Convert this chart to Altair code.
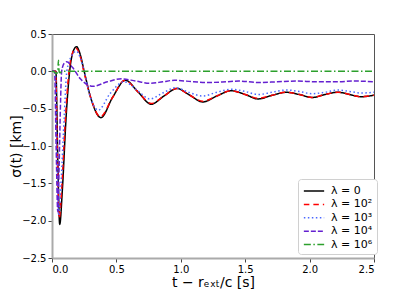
import altair as alt
import pandas as pd

labels = ["λ = 0", "λ = 10²", "λ = 10³", "λ = 10⁴", "λ = 10⁶"]
colors = ["#000000", "#ff0000", "#4a68ff", "#6420d0", "#2ca02c"]
dashes = [[1, 0], [5.5, 4], [1.5, 2.5], [5, 2], [7, 2.5, 1.5, 2.5]]

# lambda = 0
t0 = [0, 0.03, 0.045, 0.06, 0.08, 0.11, 0.137, 0.165, 0.19, 0.215, 0.25, 0.3, 0.38,
      0.47, 0.57, 0.67, 0.77, 0.87, 0.97, 1.07, 1.17, 1.28, 1.39, 1.5, 1.6, 1.71,
      1.82, 1.92, 2.02, 2.12, 2.22, 2.31, 2.4, 2.5]
s0 = [0, 0, -1.2, -2.05, -1.6, -0.6, 0, 0.27, 0.33, 0.25, 0, -0.35, -0.62,
      -0.35, -0.12, -0.28, -0.44, -0.33, -0.23, -0.32, -0.41, -0.33, -0.26, -0.31, -0.37, -0.32,
      -0.28, -0.31, -0.35, -0.31, -0.28, -0.31, -0.34, -0.32]

# lambda = 1e2
t1 = [0, 0.028, 0.042, 0.056, 0.076, 0.105, 0.132, 0.16, 0.186, 0.212, 0.247, 0.3, 0.375,
      0.47, 0.565, 0.67, 0.77, 0.87, 0.97, 1.07, 1.17, 1.28, 1.39, 1.5, 1.6, 1.71,
      1.82, 1.92, 2.02, 2.12, 2.22, 2.31, 2.4, 2.5]
s1 = [0, 0, -1.15, -1.97, -1.55, -0.6, 0, 0.25, 0.31, 0.24, 0, -0.35, -0.61,
      -0.35, -0.12, -0.28, -0.43, -0.33, -0.23, -0.32, -0.4, -0.33, -0.26, -0.31, -0.36, -0.32,
      -0.28, -0.31, -0.35, -0.31, -0.28, -0.31, -0.34, -0.32]

# lambda = 1e3
t2 = [0, 0.025, 0.04, 0.052, 0.07, 0.095, 0.115, 0.15, 0.19, 0.22, 0.25, 0.29, 0.36,
      0.45, 0.56, 0.66, 0.76, 0.86, 0.96, 1.06, 1.17, 1.28, 1.39, 1.5, 1.6, 1.71,
      1.82, 1.92, 2.02, 2.12, 2.22, 2.31, 2.4, 2.5]
s2 = [0, 0, -1.2, -1.93, -1.5, -0.6, 0, 0.2, 0.27, 0.18, 0, -0.3, -0.52,
      -0.3, -0.14, -0.25, -0.37, -0.29, -0.22, -0.28, -0.33, -0.28, -0.24, -0.27, -0.31, -0.28,
      -0.25, -0.27, -0.3, -0.28, -0.25, -0.27, -0.29, -0.28]

# lambda = 1e4
t3 = [0, 0.02, 0.032, 0.045, 0.055, 0.065, 0.075, 0.095, 0.115, 0.16, 0.22, 0.32, 0.43,
      0.54, 0.65, 0.76, 0.86, 0.95, 1.1, 1.2, 1.35, 1.45, 1.6, 1.75, 1.9, 2.05, 2.2, 2.35, 2.5]
s3 = [0, 0, -1.0, -1.88, -1.3, -0.5, 0, 0.11, 0.13, 0.05, -0.1, -0.2, -0.14,
      -0.1, -0.13, -0.16, -0.14, -0.12, -0.14, -0.15, -0.14, -0.13, -0.15, -0.14, -0.13, -0.14, -0.14, -0.13, -0.14]

# lambda = 1e6
t4 = [0, 0.02, 0.035, 0.045, 0.05, 0.055, 0.06, 0.08, 2.5]
s4 = [0, -0.01, -0.03, 0.0, 0.15, 0.0, -0.02, 0, 0]

rows = []
for lab, ts, ss in zip(labels, [t0, t1, t2, t3, t4], [s0, s1, s2, s3, s4]):
    for t, s in zip(ts, ss):
        rows.append({"series": lab, "t": t, "s": s})
df = pd.DataFrame(rows)

x_ticks = [0, 0.5, 1.0, 1.5, 2.0, 2.5]
y_ticks = [0.5, 0.0, -0.5, -1.0, -1.5, -2.0, -2.5]

legend = alt.Legend(title=None, orient="none", legendX=246, legendY=145,
                    symbolType="M-1.45,0H1.45", symbolSize=196, symbolStrokeWidth=1.5,
                    symbolFillColor="transparent",
                    labelFontSize=11, labelFont="DejaVu Sans", labelColor="#000000",
                    fillColor="white", strokeColor="#d0d0d0", cornerRadius=3,
                    padding=4, rowPadding=0.4, symbolOffset=4, labelOffset=9)

chart = alt.Chart(df).mark_line(strokeWidth=1.5, interpolate="monotone", clip=True).encode(
    x=alt.X("t:Q", scale=alt.Scale(domain=[0, 2.5], nice=False, zero=False),
            axis=alt.Axis(values=x_ticks, format=".1f", title="t − rₑₓₜ/c [s]")),
    y=alt.Y("s:Q", scale=alt.Scale(domain=[-2.5, 0.5], nice=False, zero=False),
            axis=alt.Axis(values=y_ticks, format=".1f", title="σ(t) [km]",
                          titleX=-29, titleBaseline="bottom")),
    color=alt.Color("series:N", scale=alt.Scale(domain=labels, range=colors), legend=legend),
    strokeDash=alt.StrokeDash("series:N", scale=alt.Scale(domain=labels, range=dashes), legend=legend),
    order=alt.Order("t:Q"),
).properties(
    width=322, height=224,
    autosize=alt.AutoSizeParams(type="none"),
    padding={"left": 44, "top": 26, "right": 34, "bottom": 32},
).configure_view(
    stroke="#555555", strokeWidth=1
).configure_axis(
    grid=False, domainColor="#aaaaaa", domainWidth=2,
    tickColor="#444444", tickSize=4, tickWidth=1,
    labelFont="DejaVu Sans", labelFontSize=10, labelColor="#000000", labelPadding=2,
    titleFont="DejaVu Sans", titleFontSize=14, titleFontWeight="normal", titleColor="#000000",
).configure_axisX(titlePadding=1)

chart.save("out.html", embed_options={"renderer": "svg", "actions": False})
